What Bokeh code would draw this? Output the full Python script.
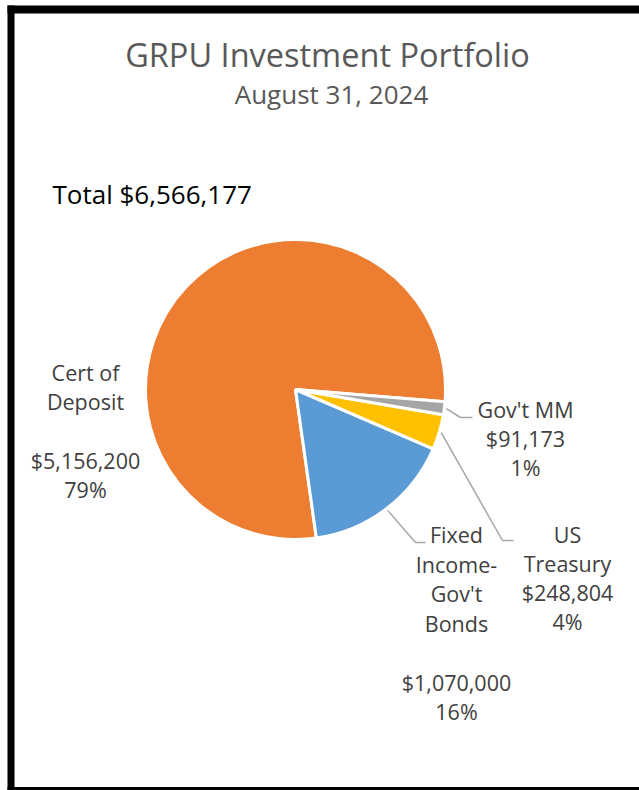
import math
from bokeh.plotting import figure
from bokeh.models import Range1d, ColumnDataSource
from bokeh.core.properties import value
from bokeh.embed import file_html
from bokeh.resources import INLINE

# ---- data ----
title_text = "GRPU Investment Portfolio"
subtitle_text = "August 31, 2024"
categories = ["Cert of\nDeposit\n", "Fixed\nIncome-\nGov't\nBonds\n", "US\nTreasury", "Gov't MM"]
amounts = [5156200, 1070000, 248804, 91173]
colors = ["#ED7D31", "#5B9BD5", "#FFC000", "#A5A5A5"]

total = sum(amounts)
total_text = f"Total ${total:,}"

# ---- layout (pixel-like data units, y measured from bottom) ----
W, H = 639, 790
CX, CY, R = 295, 401, 150
START_DEG = -4.7  # first slice starts just below 3 o'clock, slices go counter-clockwise

FONT = value("Open Sans")
LABEL_COLOR = "#404040"
LEADER_COLOR = "#A6A6A6"

p = figure(width=W, height=H, x_range=Range1d(0, W), y_range=Range1d(0, H),
           output_backend="svg", toolbar_location=None, min_border=0,
           x_axis_type=None, y_axis_type=None)
p.grid.visible = False
p.outline_line_color = None
p.background_fill_color = "white"
p.border_fill_color = "white"

# ---- pie ----
fracs = [a / total for a in amounts]
starts, ends, mids = [], [], []
acc = math.radians(START_DEG)
for f in fracs:
    s = acc
    e = acc + f * 2 * math.pi
    starts.append(s)
    ends.append(e)
    mids.append((s + e) / 2)
    acc = e

src = ColumnDataSource(dict(start=starts, end=ends, color=colors, name=categories, amount=amounts))
p.wedge(x=CX, y=CY, radius=R, start_angle="start", end_angle="end",
        fill_color="color", line_color="white", line_width=3, source=src)

# ---- labels ----
# label anchor (center x, first-line baseline y) and leader elbow/end per slice (None = no leader)
label_anchor = [(85, 418), (456, 256), (567, 256), (525, 381)]
leader_pts = [None, [(415, 248), (425, 248)], [(502, 250), (513, 250)], [(460, 373), (472, 373)]]
line_gap = [29.3, 29.5, 29.0, 29.0]

tx, ty, tt = [], [], []
for i, name in enumerate(categories):
    pct = round(fracs[i] * 100)
    lines = name.split("\n") + [f"${amounts[i]:,}", f"{pct}%"]
    ax, ay = label_anchor[i]
    for j, ln in enumerate(lines):
        if ln:
            tx.append(ax)
            ty.append(ay - j * line_gap[i])
            tt.append(ln)

p.text(x=tx, y=ty, text=tt, text_font=FONT, text_font_size=value("21.5px"),
       text_color=LABEL_COLOR, text_align="center", text_baseline="alphabetic")

lxs, lys = [], []
for i, pts in enumerate(leader_pts):
    if pts is None:
        continue
    sx = CX + (R + 2) * math.cos(mids[i])
    sy = CY + (R + 2) * math.sin(mids[i])
    lxs.append([sx] + [q[0] for q in pts])
    lys.append([sy] + [q[1] for q in pts])
p.multi_line(xs=lxs, ys=lys, line_color=LEADER_COLOR, line_width=1.5)

# ---- titles ----
p.text(x=[327], y=[736], text=[title_text], text_font=FONT, text_font_size=value("32.5px"),
       text_color="#595959", text_align="center", text_baseline="alphabetic")
p.text(x=[331], y=[697], text=[subtitle_text], text_font=FONT, text_font_size=value("26px"),
       text_color="#595959", text_align="center", text_baseline="alphabetic")
p.text(x=[52], y=[597], text=[total_text], text_font=FONT, text_font_size=value("26px"),
       text_color="#000000", text_align="left", text_baseline="alphabetic")

# ---- frame (left, top, bottom black bars) ----
p.quad(left=[7, 7, 7], right=[14, W, W], bottom=[0, 777, 0], top=[785, 785, 3.5],
       fill_color="black", line_color=None)

open("out.html", "w").write(file_html(p, INLINE))
